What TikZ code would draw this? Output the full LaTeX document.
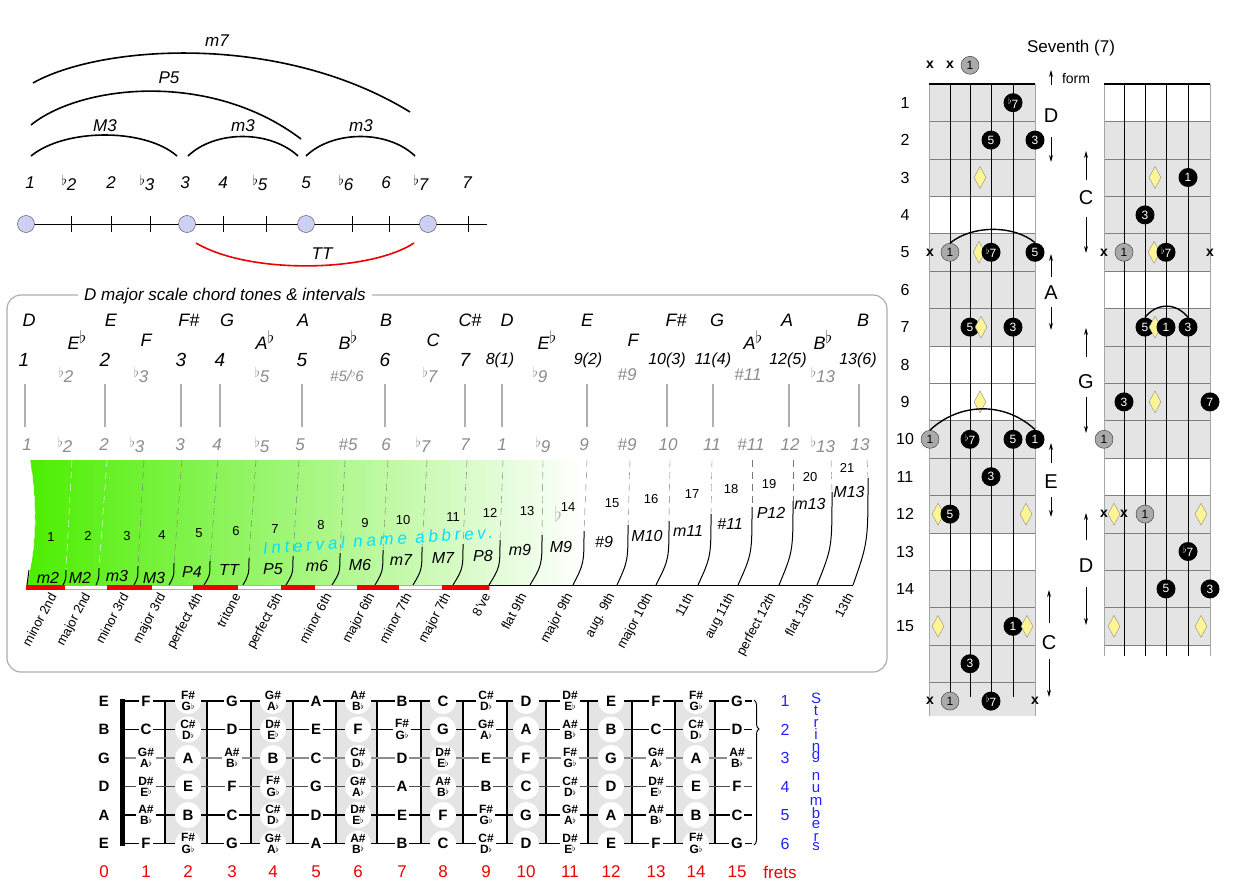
\documentclass[tikz,border=0pt]{standalone}
\usepackage{graphicx}
\usepackage{fontspec}
\setmainfont{Liberation Sans}
\newfontfamily\spacedfont[LetterSpace=22]{Liberation Sans}
\usetikzlibrary{arrows.meta,shapes.geometric,decorations.pathreplacing}

\definecolor{tonefill}{RGB}{204,208,242}
\definecolor{softgray}{RGB}{140,140,140}
\definecolor{rulegray}{RGB}{175,175,175}
\definecolor{dashgray}{RGB}{120,120,120}
\definecolor{leafgreen}{RGB}{76,238,0}
\definecolor{paleleaf}{RGB}{222,250,206}
\definecolor{abbrevcyan}{RGB}{0,226,255}
\definecolor{fretred}{RGB}{238,0,0}
\definecolor{stringblue}{RGB}{35,35,255}
\definecolor{boardgray}{RGB}{228,228,228}
\definecolor{markyellow}{RGB}{255,244,150}
\definecolor{rootgray}{RGB}{170,170,170}

\newcommand\fsz[1]{\fontsize{#1}{#1}\selectfont}
\newcommand\fl{\raisebox{.55ex}{\scalebox{.8}{$\flat$}}}
\newcommand\fb{\raisebox{.6ex}{$\flat$}}
\newcommand\sh[2]{{\fsz{12}\lineskip=0pt\shortstack{#1\#\\#2\raisebox{.2ex}{$\scriptstyle\flat$}}}}
\newcommand\fbnote[1]{\ifcase#1 E\or F\or\sh FG\or G\or\sh GA\or A\or\sh AB\or B\or C\or\sh CD\or D\or\sh DE\fi}

\begin{document}
\begin{tikzpicture}[x=1pt,y=1pt,yscale=-1,
  every node/.style={inner sep=0pt},
  deg/.style={font=\fsz{17}\itshape},
  tone/.style={circle,draw=black!70,fill=tonefill,minimum size=17pt},
  bow/.style={line width=1.6pt},
  notename/.style={font=\fsz{18}\itshape},
  softdeg/.style={font=\fsz{17}\itshape,text=softgray},
  stepno/.style={font=\fsz{13}},
  abbrev/.style={font=\fsz{16}\itshape},
  ivname/.style={anchor=east,rotate=62,font=\fsz{13}},
  openfret/.style={font=\bfseries\fsz{15},fill=white,inner sep=2pt},
  dotfret/.style={font=\bfseries\fsz{15},circle,fill=white,minimum size=26pt},
  fretno/.style={font=\fsz{17},text=fretred},
  strno/.style={font=\fsz{16},text=stringblue},
  chordtone/.style={circle,fill=black,text=white,minimum size=19pt,font=\fsz{12}},
  rootdot/.style={circle,draw=black!80,fill=rootgray,minimum size=18pt,font=\fsz{12}},
  fretdot/.style={diamond,draw=black!45,fill=markyellow,minimum width=12pt,minimum height=22pt},
  mute/.style={font=\bfseries\fsz{14}},
  formarrow/.style={-{Stealth[length=7pt,width=4pt]},line width=0.8pt},
  formname/.style={font=\fsz{20}}
]
\fill[white] (0,0) rectangle (1241,888);
\useasboundingbox (0,0) rectangle (1241,888);

%Interval line
\draw[line width=1pt] (26,224) -- (487,224);
\foreach \x in {71,111,150,223,266,352,389,468}
  \draw (\x,216) -- (\x,232);
\node[tone] (root) at (26,224) {};
\node[tone] (third) at (187,224) {};
\node[tone] (fifth) at (306,224) {};
\node[tone] (seventh) at (428,224) {};
\foreach \x/\t [count=\i] in {30/1,69/\fl2,111/2,147/\fl3,185/3,223/4,260/\fl5,306/5,346/\fl6,386/6,421/\fl7,467/7}
  \node[deg] (deg\i) at (\x,183) {\t};

%Interval arcs
\draw[bow] (31,156) .. controls (65,128) and (145,128) .. (177,156);
\node[deg] (lMthree) at (105,126) {M3};
\draw[bow] (188,156) .. controls (215,130) and (270,130) .. (298,156);
\node[deg] (lmthreea) at (243,126) {m3};
\draw[bow] (306,156) .. controls (333,130) and (388,130) .. (415,156);
\node[deg] (lmthreeb) at (361,126) {m3};
\draw[bow] (31,125) .. controls (80,85) and (210,70) .. (301,139);
\node[deg] (lPfive) at (169,78) {P5};
\draw[bow] (33,83) .. controls (100,45) and (280,32) .. (410,112);
\node[deg] (lmseven) at (217,41) {m7};
\draw[bow,fretred] (196,243) .. controls (250,275) and (370,272) .. (414,243);
\node[deg] (lTT) at (322,254) {TT};

%Chord tone panel
\draw[rulegray,line width=1.2pt,rounded corners=14pt] (7,295) rectangle (887,672);
\node[font=\fsz{17}\itshape,fill=white,inner xsep=6pt,inner ysep=2pt] (paneltitle) at (225,296) {D major scale chord tones \& intervals};

\foreach \x/\t [count=\i] in {29/D,111/E,189/F\#,227/G,303/A,386/B,470/C\#,507/D,587/E,676/F\#,717/G,787/A,863/B}
  \node[notename] (nat\i) at (\x,320) {\t};
\foreach \x/\t [count=\i] in {77/E\fb,146/F,265/A\fb,348/B\fb,433/C,547/E\fb,633/F,753/A\fb,823/B\fb}
  \node[notename] (alt\i) at (\x,340) {\t};
\foreach \x/\t [count=\i] in {24/1,105/2,181/3,220/4,302/5,385/6,465/7}
  \node[font=\fsz{19}\itshape] (deg\i) at (\x,360) {\t};
\foreach \x/\t [count=\i] in {500/8(1),588/9(2),667/10(3),713/11(4),788/12(5),858/13(6)}
  \node[font=\fsz{16}\itshape] (ext\i) at (\x,360) {\t};
\foreach \x/\t [count=\i] in {66/\fl2,141/\fl3,262/\fl5,430/\fl7,540/\fl9,627/\#9,748/\#11,823/\fl13}
  \node[softdeg] (chr\i) at (\x,375) {\t};
\node[softdeg,font=\fsz{15}\itshape] (chrsix) at (347,375) {\#5/\fl6};
\foreach \x in {25,105,181,220,302,385,465,502,587,667,713,789,859}
  \draw[rulegray,line width=1.2pt] (\x,384) -- (\x,427);
\foreach \x/\t [count=\i] in {27/1,65/\fl2,104/2,137/\fl3,180/3,217/4,262/\fl5,300/5,348/\#5,386/6,423/\fl7,465/7,502/1,543/\fl9,584/9,627/\#9,668/10,712/11,751/\#11,790/12,823/\fl13,860/13}
  \node[softdeg] (low\i) at (\x,445) {\t};

%Semitone steps
\shade[left color=leafgreen,middle color=paleleaf,right color=white]
  (30,460) -- (585,460) -- (585,585) -- (27,585) .. controls (37,545) and (37,500) .. (30,460) -- cycle;
\draw[white,dash pattern=on 7pt off 5pt] (30,460) .. controls (37,500) and (37,545) .. (29,570);
\draw[line width=1pt] (29,570) -- (27,585);
\foreach \xd/\xt/\yt/\xb/\dc in {72/66/570/63/white,107/99/568/96/white,144/138/566/134/dashgray,182/174/563/169/dashgray,218/210/561/204/dashgray,256/249/558/243/dashgray,299/293/556/286/dashgray,345/340/553/332/dashgray,388/383/550/375/dashgray,427/422/547/413/dashgray,467/463/544/453/dashgray,503/500/540/489/dashgray,543/542/535/530/dashgray,587/584/531/573/dashgray,630/628/525/617/dashgray,670/669/521/656/dashgray,712/711/514/698/dashgray,752/752/507/738/dashgray,793/793/501/779/dashgray,831/832/492/817/dashgray,867/868/478/853/dashgray}{
  \draw[\dc,dash pattern=on 7pt off 5pt] (\xd,460) -- (\xt,\yt);
  \draw[line width=1pt] (\xt,\yt) .. controls (\xt,{\yt+0.6*(585-\yt)}) .. (\xb,585);
}
\foreach \x/\y [count=\i] in {51/537,88/536,127/536,162/535,199/533,236/531,275/529,321/525,365/523,403/520,453/517,490/513,527/511,568/507,612/503,651/499,692/494,731/489,769/484,810/477,847/468}
  \node[stepno] (semi\i) at (\x,\y) {\i};
\node[text=black!30,font=\fsz{20}] (ghostflat) at (558,514) {$\flat$};
\foreach \x/\y/\t [count=\i] in {48/578/m2,80/578/M2,117/576/m3,154/578/M3,192/572/P4,229/570/TT,273/569/P5,317/566/m6,360/565/M6,401/560/m7,443/558/M7,483/556/P8,520/550/m9,561/547/M9,604/542/\#9,647/536/M10,688/531/m11,730/524/\#11,771/513/P12,810/504/m13,849/492/M13}
  \node[abbrev] (ab\i) at (\x,\y) {\t};
\node[font=\spacedfont\itshape\fsz{17},text=abbrevcyan,rotate=4] (abbrevname) at (378,540) {Interval name abbrev.};

\draw[rulegray,fill=white] (27,585) rectangle (489,589);
\foreach \a/\b in {26/65,107/152,193/238,281/315,357/399,442/489}
  \fill[fretred] (\a,585) rectangle (\b,589.5);
\draw (489,585) -- (853,585);
\foreach \x/\t [count=\i] in {53/minor 2nd,88/major 2nd,125/minor 3rd,163/major 3rd,200/perfect 4th,237/tritone,280/perfect 5th,328/minor 6th,372/major 6th,408/minor 7th,448/major 7th,487/8've,523/flat 9th,570/major 9th,612/aug. 9th,650/major 10th,690/11th,732/aug 11th,773/perfect 12th,810/flat 13th,850/13th}
  \node[ivname] (iv\i) at (\x,594) {\t};

%Fretboard notes
\foreach \a/\b in {165/207,251/293,336/377,421/463,507/546,588/632,675/715}
  \fill[boardgray] (\a,701) rectangle (\b,843.5);
\foreach \x in {165,207,251,293,336,377,421,463,507,546,588,632,675,715}
  \draw[line width=1.2pt] (\x,701) -- (\x,843.5);
\foreach \s/\c in {1/black,2/black,3/black!45,4/black!70,5/black,6/black}
  \draw[\c,line width=1.2pt] (122,{701+28.5*(\s-1)}) -- (752,{701+28.5*(\s-1)});
\draw[line width=5pt] (122,699) -- (122,845.5);
\foreach \s/\off/\open in {1/0/E,2/7/B,3/3/G,4/10/D,5/5/A,6/0/E}{
  \pgfmathsetmacro\sy{701+28.5*(\s-1)}
  \node[font=\bfseries\fsz{15}] (open\s) at (104,\sy) {\open};
  \foreach \n/\x in {1/146,2/188,3/232,4/273,5/316,6/358,7/402,8/443,9/486,10/526,11/570,12/611,13/656,14/696,15/737}{
    \pgfmathtruncatemacro\idx{mod(\off+\n,12)}
    \ifodd\n \node[openfret] (n\s-\n) at (\x,\sy) {\fbnote{\idx}};
    \else \node[dotfret] (n\s-\n) at (\x,\sy) {\fbnote{\idx}};
    \fi
  }
}
\foreach \n/\x in {0/104,1/146,2/188,3/232,4/273,5/316,6/358,7/402,8/443,9/486,10/526,11/570,12/611,13/656,14/696,15/737}
  \node[fretno] (fn\n) at (\x,872) {\n};
\node[fretno] (fretsword) at (780,872) {frets};
\coordinate (bracetop) at (754,700);
\coordinate (bracebot) at (754,845);
\draw[decorate,decoration={brace,amplitude=5pt,aspect=0.2},line width=1pt] (bracetop) -- (bracebot);
\foreach \s in {1,...,6}
  \node[strno] (sn\s) at (785,{701+28.5*(\s-1)}) {\s};
\foreach \c/\y [count=\i] in {S/698,t/711,r/723,i/734,n/747,g/757,n/776,u/789,m/801,b/813,e/825,r/837,s/847}
  \node[font=\fsz{15},text=stringblue] (sw\i) at (816,\y) {\c};

%Seventh chord forms
\node[font=\fsz{17}] (formtitle) at (1071,48) {Seventh (7)};
\foreach \k in {0,...,17}
  \coordinate (r\k) at (0,{84+37.4*(\k-0.5)});
\foreach \s/\x in {6/930,5/950,4/970,3/991,2/1013,1/1035}
  \coordinate (L\s) at (\x,0);
\foreach \s/\x in {6/1104,5/1124,4/1145,3/1166,2/1188,1/1210}
  \coordinate (R\s) at (\x,0);
\foreach \a/\b in {84/196.2,233.6/345.8,420.6/532.8,570.2/716}
  \fill[boardgray] (929,\a) rectangle (1035,\b);
\foreach \a/\b in {121.4/271,308.4/458,495.4/645}
  \fill[boardgray] (1104,\a) rectangle (1210,\b);
\foreach \k in {1,...,16}
  \draw[black!50] (929,{84+37.4*\k}) -- (1035,{84+37.4*\k});
\foreach \k in {1,...,15}
  \draw[black!50] (1104,{84+37.4*\k}) -- (1210,{84+37.4*\k});
\draw[black!35,line width=1pt] (929,84) -- (929,716) (1035,84) -- (1035,716);
\draw[black!35,line width=1pt] (1104,84) -- (1104,656) (1210,84) -- (1210,656);
\foreach \x in {950,970,991,1013}
  \draw (\x,84) -- (\x,697);
\foreach \x in {1124,1145,1166,1188}
  \draw (\x,84) -- (\x,656);
\draw[line width=2.5pt] (929,84) -- (1035,84);
\draw[line width=2.5pt] (1104,84) -- (1210,84);
\foreach \k in {1,...,15}
  \node[font=\fsz{16}] (fno\k) at ([xshift=905pt]r\k) {\k};

%left form
\foreach \x/\r [count=\i] in {980/r3,979/r5,980/r9,938/r12}
  \node[fretdot] (ldu\i) at ([xshift=\x pt]\r) {};
\foreach \s/\r/\t [count=\i] in {L2/r1/\fl7,L3/r2/5,L1/r2/3,L3/r5/\fl7,L1/r5/5,L4/r7/5,L2/r7/3,L4/r10/\fl7,L2/r10/5,L1/r10/1,L3/r11/3,L5/r12/5,L2/r15/1,L4/r16/3,L3/r17/\fl7}
  \node[chordtone] (lt\i) at (\s |- \r) {\t};
\foreach \x/\r [count=\i] in {981/r7,1026/r12,938/r15,1027/r15}
  \node[fretdot] (ldo\i) at ([xshift=\x pt]\r) {};
\foreach \s/\r [count=\i] in {L4/r0,L5/r5,L6/r10,L5/r17}
  \node[rootdot] (lr\i) at (\s |- \r) {1};
\foreach \s/\r [count=\i] in {L6/r0,L5/r0,L6/r5,L6/r17,L1/r17}
  \node[mute] (lx\i) at (\s |- \r) {x};
\draw[line width=1.4pt] (lr2.north) .. controls +(22,-18) and +(-22,-18) .. (lt5.north);
\draw[line width=1.4pt] (lr3.north) .. controls +(30,-28) and +(-30,-28) .. (lt10.north);

%right form
\foreach \x/\r [count=\i] in {1155/r3,1154/r5,1155/r9,1114/r12,1201/r12,1114/r15,1201/r15}
  \node[fretdot] (rdu\i) at ([xshift=\x pt]\r) {};
\foreach \s/\r/\t [count=\i] in {R2/r3/1,R4/r4/3,R3/r5/\fl7,R4/r7/5,R2/r7/3,R5/r9/3,R1/r9/7,R2/r13/\fl7,R3/r14/5,R1/r14/3}
  \node[chordtone] (rt\i) at (\s |- \r) {\t};
\node[fretdot] (rdo1) at ([xshift=1155pt]r7) {};
\node[chordtone] (rt11) at (R3 |- r7) {1};
\foreach \s/\r [count=\i] in {R5/r5,R6/r10,R4/r12}
  \node[rootdot] (rr\i) at (\s |- \r) {1};
\foreach \s/\r [count=\i] in {R6/r5,R1/r5,R6/r12,R5/r12}
  \node[mute] (rx\i) at (\s |- \r) {x};
\draw[line width=1.4pt] (rt4.north) .. controls +(12,-15) and +(-12,-15) .. (rt5.north);

%form ranges
\node[font=\fsz{14}] (formword) at (1076,79) {form};
\foreach \nm/\x/\y/\t/\ua/\ub/\da/\db in {fDa/1051/116/D/-31/-15/21/25,fA/1051/293/A/-16/-23/14/23,fE/1051/482/E/-19/-20/15/20,fCa/1049/643/C/-20/-33/16/38,fCb/1086/198/C/-18/-29/19/36,fG/1086/382/G/-25/-29/15/36,fDb/1086/566/D/-26/-27/21/38}{
  \node[formname] (\nm) at (\x,\y) {\t};
  \draw[formarrow] (\nm) ++(0,\ua) -- ++(0,\ub);
  \draw[formarrow] (\nm) ++(0,\da) -- ++(0,\db);
}
\end{tikzpicture}
\end{document}
